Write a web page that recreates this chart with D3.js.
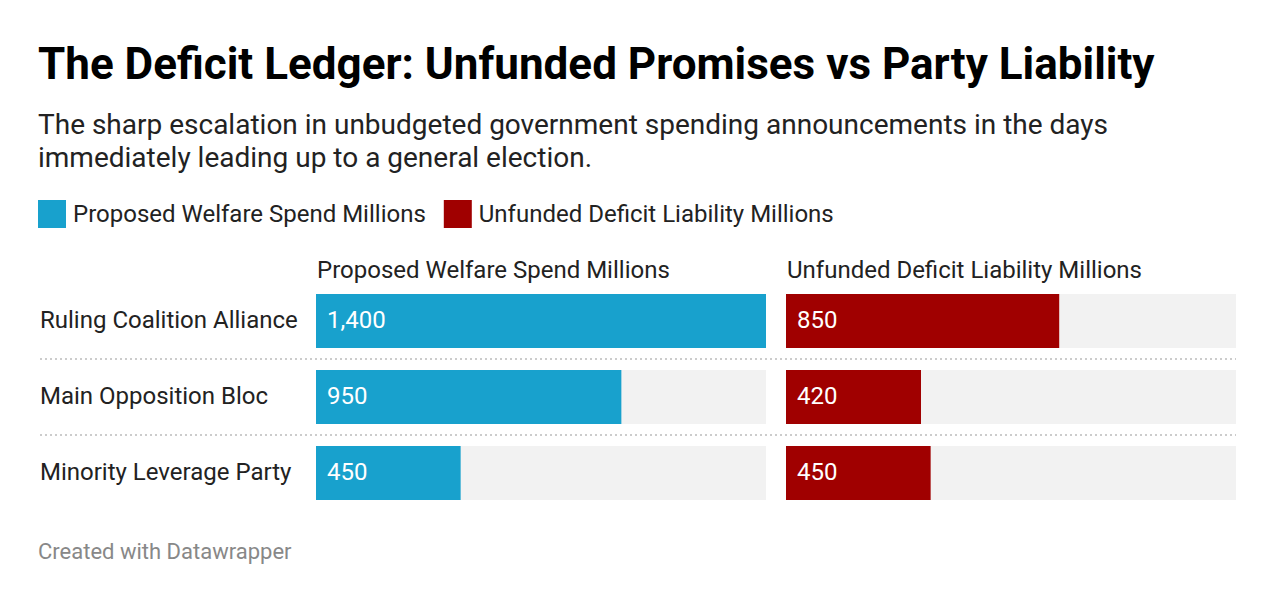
<!DOCTYPE html>
<html>
<head>
<meta charset="utf-8">
<script src="https://cdn.jsdelivr.net/npm/d3@7"></script>
<style>
  body { margin: 0; background: #fff; font-family: Roboto, "Noto Sans", sans-serif; }
</style>
</head>
<body>
<div id="chart"></div>
<script>
// chart data
const parties = ["Ruling Coalition Alliance", "Main Opposition Bloc", "Minority Leverage Party"];
const seriesNames = ["Proposed Welfare Spend Millions", "Unfunded Deficit Liability Millions"];
const welfareSpend = [1400, 950, 450];
const deficitLiability = [850, 420, 450];
const seriesColors = ["#18a1cd", "#a00000"];

const width = 1276, height = 604;
const svg = d3.select("#chart").append("svg")
    .attr("width", width)
    .attr("height", height);

// title + description
svg.append("text")
    .attr("x", 38).attr("y", 79)
    .attr("font-size", "44px")
    .attr("font-weight", 700)
    .attr("fill", "#000")
    .text("The Deficit Ledger: Unfunded Promises vs Party Liability");

const desc = ["The sharp escalation in unbudgeted government spending announcements in the days",
    "immediately leading up to a general election."];
svg.append("text")
    .attr("x", 38).attr("y", 134)
    .attr("font-size", "28px")
    .attr("fill", "#222")
    .selectAll("tspan")
    .data(desc)
    .join("tspan")
    .attr("x", 38)
    .attr("dy", (d, i) => i ? 33 : 0)
    .text(d => d);

// legend
const legend = svg.append("g").attr("transform", "translate(38,200)");
let lx = 0;
seriesNames.forEach((name, i) => {
    const g = legend.append("g").attr("transform", `translate(${lx},0)`);
    g.append("rect").attr("width", 28).attr("height", 28).attr("fill", seriesColors[i]);
    const t = g.append("text")
        .attr("x", 35).attr("y", 22)
        .attr("font-size", "24px")
        .attr("fill", "#222")
        .text(name);
    lx += 35 + t.node().getComputedTextLength() + 18;
});

// layout of the split bars
const labelX = 40;
const panels = [
    { name: seriesNames[0], values: welfareSpend, color: seriesColors[0], x0: 316 },
    { name: seriesNames[1], values: deficitLiability, color: seriesColors[1], x0: 786 }
];
const panelWidth = 450;

const x = d3.scaleLinear()
    .domain([0, d3.max(welfareSpend.concat(deficitLiability))])
    .range([0, panelWidth]);

const y = d3.scaleBand()
    .domain(parties)
    .range([294, 500])
    .paddingInner(22 / 76)
    .paddingOuter(0);

const fmt = d3.format(",");

// row labels
svg.append("g").selectAll("text")
    .data(parties)
    .join("text")
    .attr("x", labelX)
    .attr("y", d => y(d) + y.bandwidth() / 2 + 7)
    .attr("font-size", "24px")
    .attr("fill", "#222")
    .text(d => d);

// dotted separators
svg.append("g").selectAll("line")
    .data(parties.slice(1))
    .join("line")
    .attr("x1", labelX)
    .attr("x2", panels[1].x0 + panelWidth)
    .attr("y1", d => y(d) - y.step() * y.paddingInner() / 2)
    .attr("y2", d => y(d) - y.step() * y.paddingInner() / 2)
    .attr("stroke", "#ccc")
    .attr("stroke-width", 2)
    .attr("stroke-dasharray", "2,3");

panels.forEach(p => {
    const g = svg.append("g").attr("transform", `translate(${p.x0},0)`);

    g.append("text")
        .attr("x", 1).attr("y", 278)
        .attr("font-size", "24px")
        .attr("fill", "#222")
        .text(p.name);

    // background tracks
    g.selectAll(".track")
        .data(parties)
        .join("rect")
        .attr("class", "track")
        .attr("x", 0)
        .attr("y", d => y(d))
        .attr("width", panelWidth)
        .attr("height", y.bandwidth())
        .attr("fill", "#f2f2f2");

    g.selectAll(".bar")
        .data(p.values)
        .join("rect")
        .attr("class", "bar")
        .attr("x", 0)
        .attr("y", (d, i) => y(parties[i]))
        .attr("width", d => x(d))
        .attr("height", y.bandwidth())
        .attr("fill", p.color);

    g.selectAll(".val")
        .data(p.values)
        .join("text")
        .attr("class", "val")
        .attr("x", 11)
        .attr("y", (d, i) => y(parties[i]) + y.bandwidth() / 2 + 7)
        .attr("font-size", "24px")
        .attr("fill", "#fff")
        .text(d => fmt(d));
});

// footer
svg.append("text")
    .attr("x", 38).attr("y", 559)
    .attr("font-size", "22px")
    .attr("fill", "#888")
    .text("Created with Datawrapper");
</script>
</body>
</html>
